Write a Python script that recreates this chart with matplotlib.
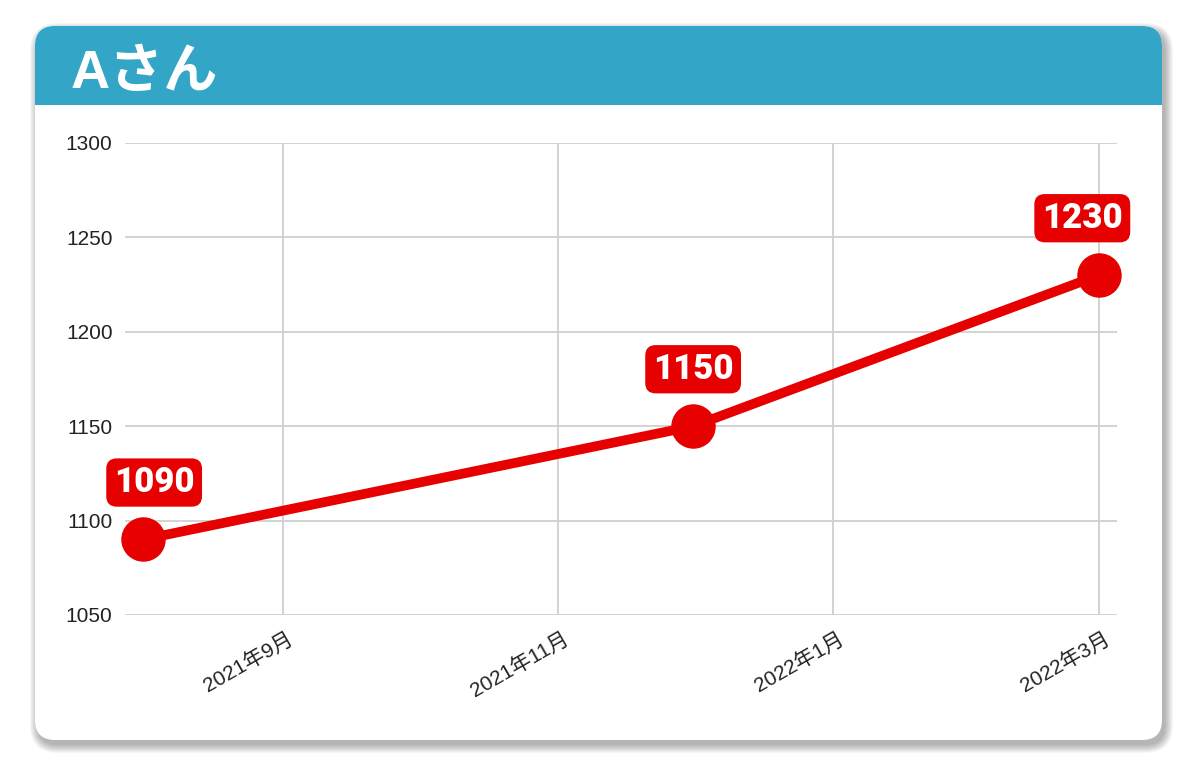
import numpy as np
import pandas as pd
import matplotlib
matplotlib.use("Agg")
import matplotlib.pyplot as plt
import matplotlib.transforms as mtransforms
from matplotlib.patches import FancyBboxPatch, Rectangle

TITLE = "Aさん"
DATES = ["2021-08-01", "2021-12-01", "2022-03-01"]
VALUES = [1090, 1150, 1230]
Y_TICKS = [1050, 1100, 1150, 1200, 1250, 1300]
X_TICKS = ["2021-09-01", "2021-11-01", "2022-01-01", "2022-03-01"]

RED = "#e60000"
TEAL = "#33a5c6"
GRID = "#d0d0d0"

plt.rcParams['font.family'] = ['Liberation Sans', 'Noto Sans CJK JP', 'DejaVu Sans']

W, H = 1200, 774
fig = plt.figure(figsize=(W / 100, H / 100), dpi=100)
fig.patch.set_facecolor("white")

# background axes in pixel coords for the card
bg = fig.add_axes([0, 0, 1, 1], zorder=-1)
bg.set_xlim(0, W)
bg.set_ylim(H, 0)
bg.axis("off")

cx0, cy0, cx1, cy1 = 35, 26, 1162, 740
r = 20

# soft shadow, layered
for grow in range(8, -1, -1):
    sh = FancyBboxPatch((cx0 + 3 - grow, cy0 + 5 - grow),
                        (cx1 - cx0) + 2 * grow, (cy1 - cy0) + 2 * grow,
                        boxstyle=f"round,pad=0,rounding_size={r + grow}",
                        facecolor="black", edgecolor="none", alpha=0.035)
    bg.add_patch(sh)

card = FancyBboxPatch((cx0, cy0), cx1 - cx0, cy1 - cy0,
                      boxstyle=f"round,pad=0,rounding_size={r}",
                      facecolor="white", edgecolor="none")
bg.add_patch(card)

# header with rounded top corners only
head = FancyBboxPatch((cx0, cy0), cx1 - cx0, 105 - cy0 + r + 5,
                      boxstyle=f"round,pad=0,rounding_size={r}",
                      facecolor=TEAL, edgecolor="none")
bg.add_patch(head)
bg.add_patch(Rectangle((cx0, 105), cx1 - cx0, r + 8, facecolor="white", edgecolor="none"))

bg.text(71, 88, TITLE, color="white", fontsize=39, fontweight="bold",
        family=['Liberation Sans', 'Noto Sans CJK JP'], va="baseline", ha="left")

# chart
ax = fig.add_axes([125 / W, 1 - 615 / H, (1117 - 125) / W, (615 - 143) / H])
ax.set_facecolor("none")

x = pd.to_datetime(DATES)
ax.plot(x, VALUES, color=RED, lw=7, marker="o", markersize=31,
        solid_capstyle="round", zorder=3, clip_on=False)

# labels are kept inside the plot area like the original
label_dx = [8, 0, -12]
for xi, v, dx in zip(x, VALUES, label_dx):
    ax.annotate(str(v), (xi, v), xytext=(dx, 41), textcoords="offset points",
                ha="center", va="center", color="white", fontsize=25,
                fontweight="black", family="Roboto", zorder=5,
                bbox=dict(boxstyle="round,pad=0.22,rounding_size=0.3",
                          facecolor=RED, edgecolor="none"),
                annotation_clip=False)

ax.set_xlim(pd.Timestamp("2021-07-28"), pd.Timestamp("2022-03-05"))
ax.set_ylim(1050, 1300)
ax.set_yticks(Y_TICKS)

tick_dates = pd.to_datetime(X_TICKS)
ax.set_xticks(tick_dates)
ax.set_xticklabels([f"{d.year}年{d.month}月" for d in tick_dates])

ax.grid(True, color=GRID, lw=1.3)
ax.set_axisbelow(True)
for s in ax.spines.values():
    s.set_visible(False)
ax.tick_params(length=0, labelsize=15, colors="#222222")
ax.tick_params(axis="y", pad=9)
ax.tick_params(axis="x", pad=10)
shift = mtransforms.ScaledTranslation(4 / 100, 0, fig.dpi_scale_trans)
for lab in ax.get_xticklabels():
    lab.set_rotation(30)
    lab.set_ha("right")
    lab.set_rotation_mode("anchor")
    lab.set_transform(lab.get_transform() + shift)

fig.savefig("out.png", dpi=100, facecolor="white")
